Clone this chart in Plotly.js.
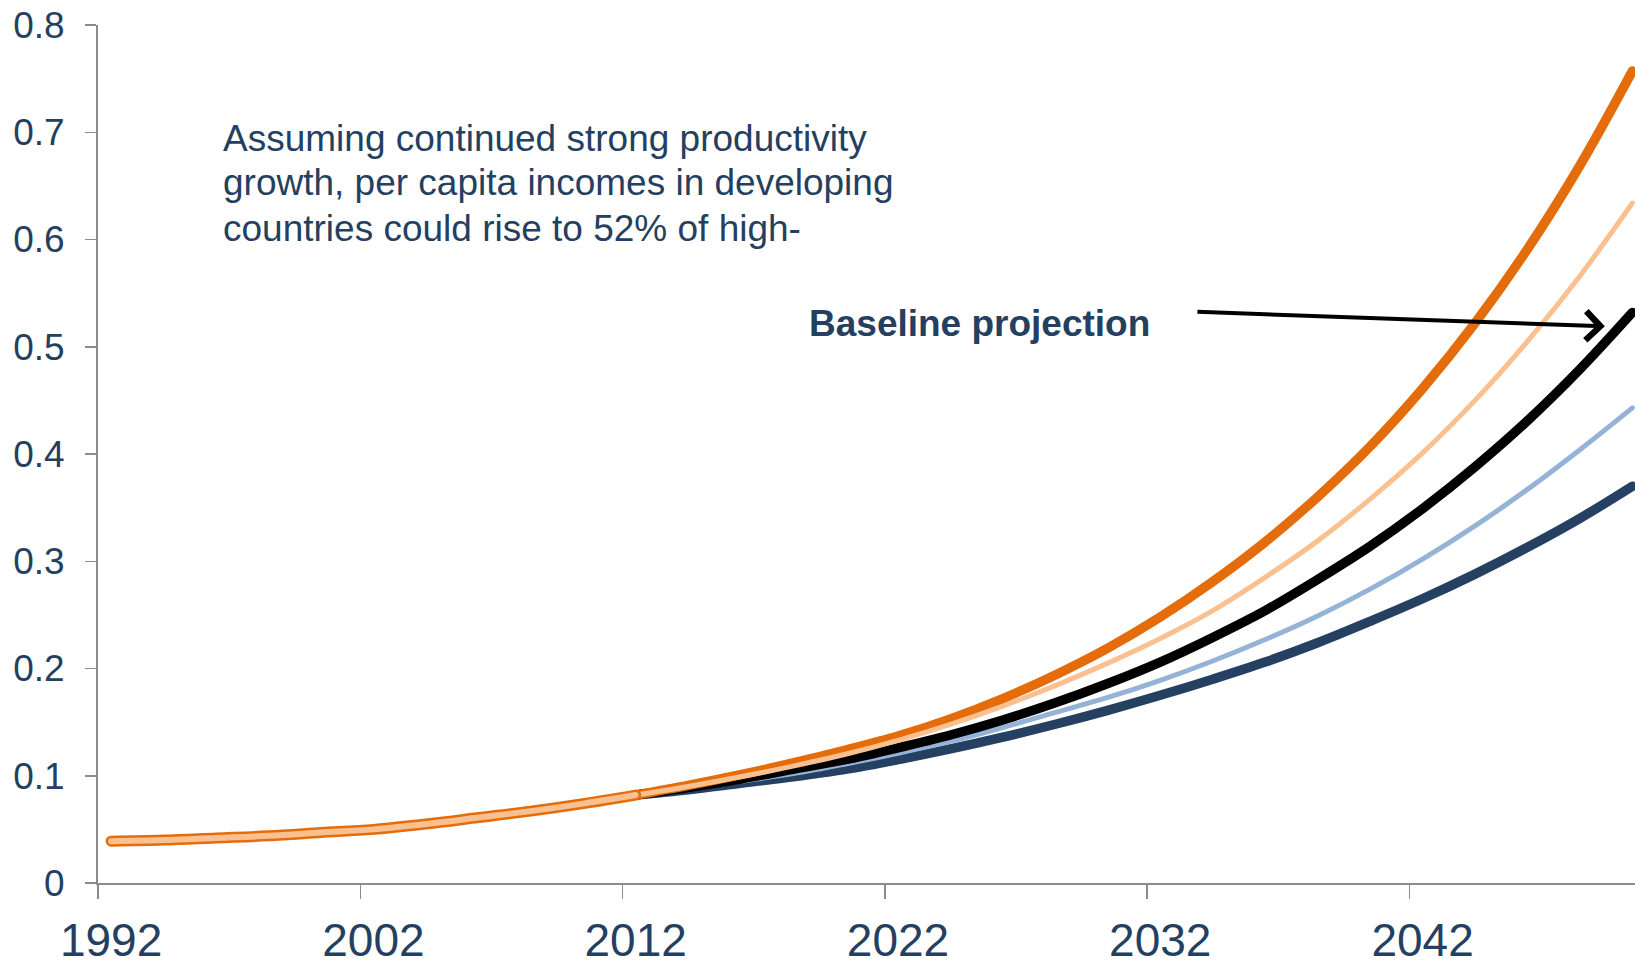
<!DOCTYPE html>
<html>
<head>
<meta charset="utf-8">
<script src="https://cdn.plot.ly/plotly-3.0.1.min.js"></script>
<style>
  html, body { margin: 0; padding: 0; background: #ffffff; }
  #chart { width: 1635px; height: 963px; }
  .js-line { stroke-linecap: round; stroke-linejoin: round; }
</style>
</head>
<body>
<div id="chart"></div>
<script>
// ---- data ----
const histYears = [1992, 1994, 1996, 1998, 2000, 2002, 2004, 2006, 2008, 2010, 2012];
const histValues = [0.039, 0.040, 0.042, 0.044, 0.047, 0.050, 0.055, 0.061, 0.067, 0.074, 0.082];

const projYears = [2012, 2014, 2016, 2018, 2020, 2022, 2024, 2026, 2028, 2030,
                   2032, 2034, 2036, 2038, 2040, 2042, 2044, 2046, 2048, 2050];
const highScenario = [0.082, 0.091, 0.101, 0.112, 0.124, 0.137, 0.153, 0.172, 0.194, 0.219,
                      0.248, 0.281, 0.318, 0.360, 0.407, 0.461, 0.522, 0.591, 0.669, 0.757];
const upperScenario = [0.082, 0.090, 0.099, 0.109, 0.120, 0.133, 0.148, 0.165, 0.184, 0.205,
                       0.228, 0.254, 0.285, 0.319, 0.358, 0.401, 0.450, 0.505, 0.566, 0.634];
const baseline = [0.082, 0.089, 0.097, 0.106, 0.115, 0.126, 0.138, 0.152, 0.168, 0.186,
                  0.206, 0.229, 0.254, 0.283, 0.314, 0.349, 0.388, 0.431, 0.479, 0.532];
const lowerScenario = [0.082, 0.088, 0.095, 0.102, 0.111, 0.121, 0.132, 0.145, 0.159, 0.173,
                       0.189, 0.207, 0.227, 0.249, 0.274, 0.302, 0.333, 0.367, 0.404, 0.443];
const lowScenario = [0.082, 0.087, 0.093, 0.099, 0.106, 0.115, 0.125, 0.136, 0.148, 0.161,
                     0.175, 0.190, 0.206, 0.224, 0.244, 0.265, 0.288, 0.313, 0.340, 0.370];

const xTickLabels = ['1992', '2002', '2012', '2022', '2032', '2042'];
const yTickValues = [0, 0.1, 0.2, 0.3, 0.4, 0.5, 0.6, 0.7, 0.8];
const yTickLabels = ['0', '0.1', '0.2', '0.3', '0.4', '0.5', '0.6', '0.7', '0.8'];

const noteLines = [
  'Assuming continued strong productivity',
  'growth, per capita incomes in developing',
  'countries could rise to 52% of high-'
];
const calloutText = 'Baseline projection';

// ---- styling ----
const NAVY = '#243F60';
const AXIS_GREY = '#8C8C8C';
const FONT = '"Liberation Sans", Arial, sans-serif';

function line(x, y, color, width, xaxis) {
  return {
    type: 'scatter', mode: 'lines', x: x, y: y,
    xaxis: xaxis || 'x', yaxis: 'y',
    line: { color: color, width: width, shape: 'spline', smoothing: 1 },
    hoverinfo: 'skip', showlegend: false
  };
}

const traces = [
  line(projYears, lowScenario, '#254061', 9.5),
  line(projYears, lowerScenario, '#95B3D7', 5),
  line(projYears, baseline, '#000000', 9.5),
  line(projYears, highScenario, '#E46C0A', 9.5),
  line(projYears, upperScenario, '#FAC090', 5),
  line(histYears, histValues, '#E46C0A', 11),
  line(histYears, histValues, '#FAC090', 6, 'x2')
];

const xRange = [1991.5, 2050.1];

const annotations = [];
const noteY = [0.6946, 0.6527, 0.6107];
noteLines.forEach(function (t, i) {
  annotations.push({
    text: t, xref: 'x', yref: 'y', x: 1996.2, y: noteY[i],
    xanchor: 'left', yanchor: 'middle', showarrow: false,
    font: { family: FONT, size: 37, color: NAVY }
  });
});
annotations.push({
  text: '<b>' + calloutText + '</b>', xref: 'x', yref: 'y', x: 2018.55, y: 0.522,
  xanchor: 'left', yanchor: 'middle', showarrow: false,
  font: { family: FONT, size: 37, color: NAVY }
});
annotations.push({
  text: '', xref: 'x', yref: 'y', x: 2048.95, y: 0.519,
  axref: 'x', ayref: 'y', ax: 2033.36, ay: 0.5326,
  showarrow: true, arrowhead: 4, arrowsize: 1.4, arrowwidth: 4, arrowcolor: '#000000',
  standoff: 0, startstandoff: 0
});

const layout = {
  width: 1635, height: 963,
  margin: { l: 98, r: 0, t: 25, b: 80, pad: 0 },
  paper_bgcolor: '#ffffff', plot_bgcolor: '#ffffff',
  font: { family: FONT, color: NAVY },
  showlegend: false,
  xaxis: {
    type: 'linear', range: xRange, fixedrange: true,
    tickmode: 'array',
    tickvals: xTickLabels.map(function (t) { return Number(t) - 0.5; }),
    ticktext: xTickLabels.map(function () { return ''; }),
    ticks: 'outside', ticklen: 14, tickwidth: 1.5, tickcolor: AXIS_GREY,
    showline: true, linecolor: AXIS_GREY, linewidth: 2,
    showgrid: false, zeroline: false
  },
  xaxis2: {
    type: 'linear', range: xRange, fixedrange: true,
    overlaying: 'x', anchor: 'y', side: 'bottom',
    tickmode: 'array',
    tickvals: xTickLabels.map(Number),
    ticktext: xTickLabels,
    ticks: '', ticklabelstandoff: 26,
    tickfont: { family: FONT, size: 46, color: NAVY },
    showline: false, showgrid: false, zeroline: false
  },
  yaxis: {
    type: 'linear', range: [0, 0.8], fixedrange: true,
    tickmode: 'array', tickvals: yTickValues, ticktext: yTickLabels,
    ticks: 'outside', ticklen: 11, tickwidth: 1.5, tickcolor: AXIS_GREY,
    ticklabelstandoff: 13,
    tickfont: { family: FONT, size: 37, color: NAVY },
    showline: true, linecolor: AXIS_GREY, linewidth: 2,
    showgrid: false, zeroline: false
  },
  annotations: annotations
};

Plotly.newPlot('chart', traces, layout, { displayModeBar: false, staticPlot: true });
</script>
</body>
</html>
